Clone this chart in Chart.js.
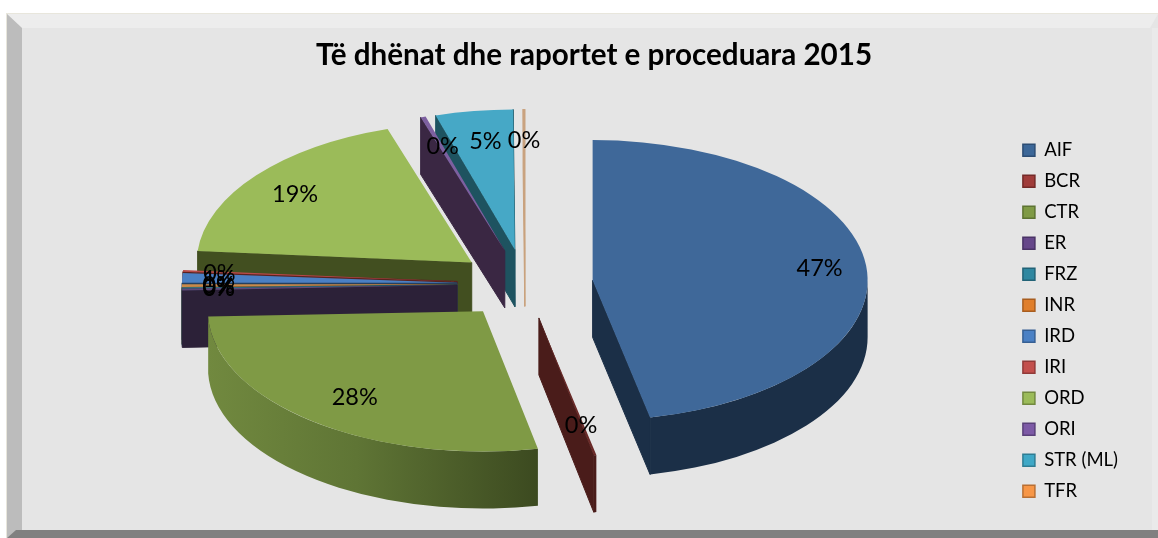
<!DOCTYPE html>
<html><head><meta charset="utf-8">
<style>html,body{margin:0;padding:0;background:#fff}#w{position:absolute;left:0;top:0;width:1158px;height:538px}</style>
<script src="https://cdn.jsdelivr.net/npm/chart.js@4/dist/chart.umd.min.js"></script>
</head><body><div id="w"><canvas id="c" width="1158" height="538"></canvas></div>
<script>
const titleText = 'Të dhënat dhe raportet e proceduara 2015';
const categories = ['AIF','BCR','CTR','ER','FRZ','INR','IRD','IRI','ORD','ORI','STR (ML)','TFR'];
const values = [46.65,0.15,27.6,0.2,0.1,0.3,1.1,0.2,18.75,0.3,4.55,0.1];
const topColors = ['#3f6899','#6a2a28','#7f9a45','#5f497a','#31859c','#c98a4a','#4a80c4','#b84a48','#9bbb59','#7d60a0','#46a8c6','#c9a27e'];
const legendColors = ['#3c6798','#a03c3a','#7f9a45','#66478a','#2f87a0','#e07f2c','#4a80c4','#c34f4c','#9bbb59','#7d5aa6','#3fa8c6','#f79646'];
const legendBorders = ['#2c4d74','#742a28','#5d7332','#4a3366','#226377','#a85d1f','#365f93','#913a38','#72893f','#5a417a','#2e7d93','#b86f33'];
const wallColors = ['#1b2f47','#4a1c1a','#3f4e20','#2c2138','#174a58','#6a4520','#25405f','#5a2220','#424f20','#3a2743','#1e5360','#c9a27e'];
const labelReach = [0.83,0.75,0.755,0.867,0.867,0.867,0.867,0.867,0.82,0.76,0.72,0.8];

const CX = 525, CY = 284, SQUASH = 0.51, DEPTH = 57, RADIUS = 275, EXPLODE = 68;

// every slice is pulled out along its bisector by a fixed distance
const baseArcDraw = Chart.ArcElement.prototype.draw;
Chart.ArcElement.prototype.draw = function(ctx, area){
  const m = (this.startAngle + this.endAngle) / 2;
  ctx.save();
  ctx.translate(Math.cos(m) * EXPLODE, Math.sin(m) * EXPLODE);
  baseArcDraw.call(this, ctx, area);
  ctx.restore();
};

function geom(el){
  const p = el.getProps(['startAngle','endAngle','outerRadius']);
  const mid = (p.startAngle+p.endAngle)/2;
  return {ax: CX + Math.cos(mid)*EXPLODE, ay: CY + Math.sin(mid)*EXPLODE*SQUASH,
          a0:p.startAngle, a1:p.endAngle, mid, r:p.outerRadius};
}
function pt(g,a){return [g.ax+Math.cos(a)*g.r, g.ay+Math.sin(a)*g.r*SQUASH];}
function cutWall(ctx,g,a,color){
  const e=pt(g,a);
  ctx.beginPath();ctx.moveTo(g.ax,g.ay);ctx.lineTo(e[0],e[1]);ctx.lineTo(e[0],e[1]+DEPTH);ctx.lineTo(g.ax,g.ay+DEPTH);ctx.closePath();
  ctx.fillStyle=color;ctx.strokeStyle=color;ctx.lineWidth=1;ctx.fill();ctx.stroke();
}
function outerWall(ctx,g,i){
  let s=Math.max(g.a0,0), e=Math.min(g.a1,Math.PI);
  if(e<=s)return;
  const x0=pt(g,s)[0];
  let fill=wallColors[i];
  if(i===2){const gr=ctx.createLinearGradient(g.ax-g.r,0,x0,0);gr.addColorStop(0,'#71893f');gr.addColorStop(.45,'#5f7535');gr.addColorStop(1,'#3c4a20');fill=gr;}
  ctx.beginPath();
  ctx.ellipse(g.ax,g.ay,g.r,g.r*SQUASH,0,s,e,false);
  ctx.ellipse(g.ax,g.ay+DEPTH,g.r,g.r*SQUASH,0,e,s,true);
  ctx.closePath();ctx.fillStyle=fill;ctx.fill();
}
const pie3d = {
  id:'pie3d',
  beforeDraw(chart){
    const c=chart.ctx;c.save();
    c.fillStyle='#e8e6dc';c.fillRect(6,13,1152,525);
    c.fillStyle='#e5e5e5';c.fillRect(7,14,1151,524);
    c.fillStyle='#ededed';c.beginPath();c.moveTo(7,14);c.lineTo(1158,14);c.lineTo(1150,28);c.lineTo(22,28);c.closePath();c.fill();
    c.fillStyle='#bcbcbc';c.beginPath();c.moveTo(7,14);c.lineTo(22,28);c.lineTo(22,530);c.lineTo(7,538);c.closePath();c.fill();
    c.fillStyle='#eaeaea';c.fillRect(1152,28,6,503);
    c.fillStyle='#808080';c.beginPath();c.moveTo(7,538);c.lineTo(16,530);c.lineTo(1158,530);c.lineTo(1158,538);c.closePath();c.fill();
    c.restore();
  },
  beforeDatasetsDraw(chart){
    const ctx=chart.ctx, arcs=chart.getDatasetMeta(0).data;
    const gs=arcs.map((el,i)=>({g:geom(el),i}));
    gs.sort((a,b)=>a.g.ay-b.g.ay);
    ctx.save();
    gs.forEach(({g,i})=>{
      outerWall(ctx,g,i);
      if(Math.cos(g.a0)<-0.001) cutWall(ctx,g,g.a0,wallColors[i]);
      if(Math.cos(g.a1)>-0.01) cutWall(ctx,g,g.a1,wallColors[i]);
    });
    ctx.restore();
    const e=arcs[0];
    ctx.save();ctx.translate(CX,CY);ctx.scale(1,SQUASH);ctx.translate(-e.x,-e.y);
  },
  afterDatasetsDraw(chart){chart.ctx.restore();},
  afterDraw(chart){
    const ctx=chart.ctx, arcs=chart.getDatasetMeta(0).data;
    const total=values.reduce((a,b)=>a+b,0);
    ctx.save();ctx.fillStyle='#000';ctx.font='23.5px Lato';ctx.textAlign='center';ctx.textBaseline='middle';
    arcs.forEach((el,i)=>{
      const g=geom(el);
      const x=g.ax+Math.cos(g.mid)*g.r*labelReach[i], y=g.ay+Math.sin(g.mid)*g.r*0.78*SQUASH;
      ctx.fillText(Math.round(values[i]/total*100)+'%',x,y);
    });
    ctx.restore();
  }
};
new Chart(document.getElementById('c'),{
  type:'pie',
  data:{labels:categories,datasets:[{data:values,backgroundColor:topColors,borderWidth:0,hoverOffset:0,clip:false}]},
  plugins:[pie3d],
  options:{
    responsive:false,animation:false,events:[],radius:RADIUS,
    layout:{padding:{top:26,right:30,bottom:16,left:60}},
    plugins:{
      title:{display:true,text:titleText,color:'#000',font:{family:'Lato',size:29.6,weight:'bold'},padding:{top:12,bottom:46}},
      tooltip:{enabled:false},
      legend:{position:'right',align:'center',fullSize:false,labels:{
        font:{family:'Lato',size:18.5},color:'#000',boxWidth:12,boxHeight:12,padding:12.5,
        generateLabels(chart){return categories.map((t,i)=>({text:t,fillStyle:legendColors[i],strokeStyle:legendBorders[i],lineWidth:1.5,index:i,hidden:false}));}
      }}
    }
  }
});
</script></body></html>
